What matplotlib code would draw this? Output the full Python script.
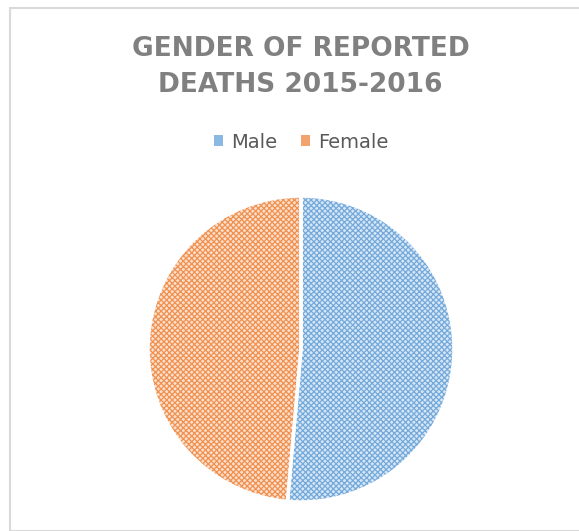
import matplotlib.pyplot as plt
import matplotlib.patches as mpatches
import matplotlib.colors as mcolors

labels = ["Male", "Female"]
shares = [51.4, 48.6]
colors = ["#5B9BD5", "#ED7D31"]
title = "GENDER OF REPORTED\nDEATHS 2015-2016"

plt.rcParams["hatch.linewidth"] = 0.9

fig = plt.figure(figsize=(5.79, 5.31), dpi=100)

# light grey frame like the spreadsheet chart area
fig.patches.append(mpatches.Rectangle((10 / 579, 0.0), 0.99, 1 - 8 / 531,
                                      transform=fig.transFigure, fill=False,
                                      edgecolor="#d9d9d9", linewidth=1.5))

ax = fig.add_axes([148 / 579, 29 / 531, 306 / 579, 306 / 531])

def light(c, amt=0.75):
    r, g, b = mcolors.to_rgb(c)
    return (r + (1 - r) * amt, g + (1 - g) * amt, b + (1 - b) * amt)

wedges, _ = ax.pie(shares, startangle=90, counterclock=False,
                   colors=[light(c, 0.75) for c in colors])
for w, c in zip(wedges, colors):
    w.set_hatch("xxxxxx")
    w.set_edgecolor(light(c, 0.15))
    w.set_linewidth(0)
# white separators drawn again on top
ax.pie(shares, startangle=90, counterclock=False,
       colors=["none", "none"],
       wedgeprops=dict(edgecolor="white", linewidth=2.5))
ax.set_xlim(-1, 1)
ax.set_ylim(-1, 1)
ax.set_aspect("equal")

fig.text(0.519, 1 - 67 / 531, title, ha="center", va="center",
         fontsize=19, fontweight="bold", color="#808080",
         linespacing=1.5, family="DejaVu Sans")

handles = [mpatches.Patch(facecolor=light(c, 0.3), edgecolor="none", label=l)
           for l, c in zip(labels, colors)]
fig.legend(handles=handles, loc="center", bbox_to_anchor=(0.52, 1 - 142 / 531),
           ncol=2, frameon=False, fontsize=14, handlelength=0.5,
           handleheight=0.5, handletextpad=0.4, columnspacing=1.2,
           labelcolor="#595959")

fig.savefig("out.png", dpi=100)
